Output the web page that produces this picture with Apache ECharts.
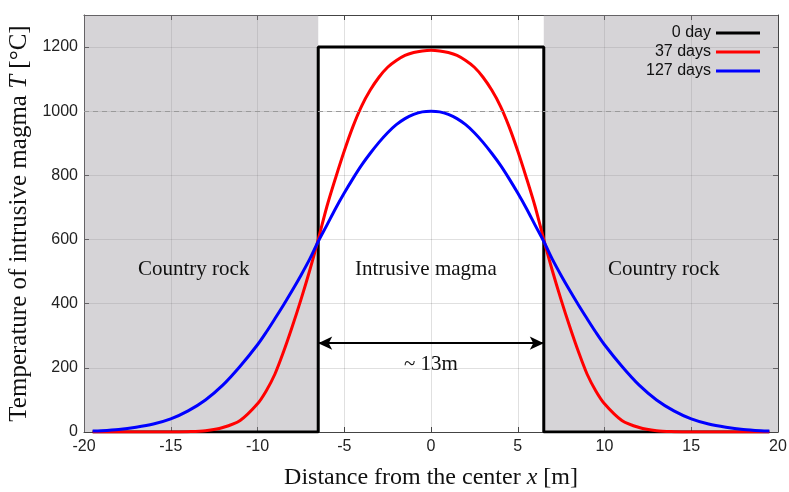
<!DOCTYPE html>
<html>
<head>
    <meta charset="UTF-8">
    <script src="https://cdn.jsdelivr.net/npm/echarts@6/dist/echarts.min.js"></script>
    <style>
        html, body { margin: 0; padding: 0; background: #ffffff; }
        #main { width: 789px; height: 492px; }
    </style>
</head>
<body>
<div id="main"></div>
<script type="text/javascript">
    // distance from the center x [m]
    var xs = [-19.5, -19, -18, -17, -16, -15, -14, -13, -12, -11, -10, -9.5, -9, -8.5, -8, -7.5, -7, -6.5,
        -6, -5.5, -5, -4.5, -4, -3.5, -3, -2.5, -2, -1.5, -1, -0.5, 0,
        0.5, 1, 1.5, 2, 2.5, 3, 3.5, 4, 4.5, 5, 5.5, 6,
        6.5, 7, 7.5, 8, 8.5, 9, 9.5, 10, 11, 12, 13, 14, 15, 16, 17, 18, 19, 19.5];
    // temperature after 37 days
    var days37 = [0, 0, 0, 0, 0, 0, 1, 4, 14, 36, 88, 128, 180, 250, 328, 412, 502, 600,
        703, 792, 876, 952, 1016, 1066, 1106, 1137, 1158, 1174, 1183, 1188, 1190,
        1188, 1183, 1174, 1158, 1137, 1106, 1066, 1016, 952, 876, 792, 703,
        600, 502, 412, 328, 250, 180, 128, 88, 36, 14, 4, 1, 0, 0, 0, 0, 0, 0];
    // temperature after 127 days
    var days127 = [3, 4, 8, 15, 25, 41, 66, 100, 146, 205, 272, 311, 353, 396, 441, 488, 538, 594,
        645, 697, 745, 790, 832, 869, 903, 933, 958, 977, 990, 998, 1000,
        998, 990, 977, 958, 933, 903, 869, 832, 790, 745, 697, 645,
        594, 538, 488, 441, 396, 353, 311, 272, 205, 146, 100, 66, 41, 25, 15, 8, 4, 3];
    // initial state (0 day), step profile
    var day0X = [-19.5, -6.5, -6.5, 6.5, 6.5, 19.5];
    var day0T = [0, 0, 1200, 1200, 0, 0];

    var magmaEdge = 6.5;
    var yTicks = [0, 200, 400, 600, 800, 1000, 1200];

    function pairs(x, y) {
        var out = [];
        for (var i = 0; i < x.length; i++) {
            out.push([x[i], y[i]]);
        }
        return out;
    }

    var myChart = echarts.init(document.getElementById('main'));

    var serif = '"Liberation Serif", "DejaVu Serif", serif';
    var sans = '"Liberation Sans", Arial, sans-serif';

    function frameAxis(extra) {
        var base = {
            type: 'value',
            axisLine: {show: true, onZero: false, lineStyle: {color: '#444', width: 1}},
            axisTick: {show: true, inside: true, length: 5, lineStyle: {color: '#444'}},
            axisLabel: {show: false},
            splitLine: {show: false}
        };
        return Object.assign(base, extra);
    }

    var option = {
        animation: false,
        backgroundColor: '#ffffff',
        grid: {left: 84, right: 11, top: 15, bottom: 60, outerBoundsMode: 'none', containLabel: false},
        legend: {
            data: ['0 day', '37 days', '127 days'],
            orient: 'vertical',
            right: 24,
            top: 20,
            align: 'right',
            icon: 'rect',
            itemWidth: 44,
            itemHeight: 3,
            itemGap: 3,
            textStyle: {fontFamily: sans, fontSize: 16, color: '#111'}
        },
        xAxis: [
            frameAxis({
                min: -20,
                max: 20,
                interval: 5,
                name: 'Distance from the center {i|x} [m]',
                nameLocation: 'middle',
                nameGap: 34,
                nameTextStyle: {
                    fontFamily: serif, fontSize: 24, color: '#111',
                    rich: {i: {fontFamily: serif, fontSize: 24, fontStyle: 'italic', color: '#111'}}
                },
                axisLabel: {show: true, fontFamily: sans, fontSize: 16, color: '#222', margin: 7},
                splitLine: {show: true, lineStyle: {color: 'rgba(0,0,0,0.12)', width: 1}}
            }),
            frameAxis({position: 'top', min: -20, max: 20, interval: 5})
        ],
        yAxis: [
            frameAxis({
                min: 0,
                max: 1300,
                interval: 200,
                name: 'Temperature of intrusive magma {i|T} [°C]',
                nameLocation: 'middle',
                nameGap: 50,
                nameTextStyle: {
                    fontFamily: serif, fontSize: 25, color: '#111',
                    rich: {i: {fontFamily: serif, fontSize: 25, fontStyle: 'italic', color: '#111'}}
                },
                axisLabel: {
                    show: true, fontFamily: sans, fontSize: 16, color: '#222', margin: 6,
                    formatter: function (v) {
                        return yTicks.indexOf(v) >= 0 ? String(v) : '';
                    }
                },
                splitLine: {show: true, lineStyle: {color: 'rgba(0,0,0,0.12)', width: 1}}
            }),
            frameAxis({position: 'right', min: 0, max: 1300, interval: 200})
        ],
        graphic: [
            {type: 'text', z: 100, left: 138, top: 259, style: {text: 'Country rock', font: '21px ' + serif, fill: '#111'}},
            {type: 'text', z: 100, left: 355, top: 259, style: {text: 'Intrusive magma', font: '21px ' + serif, fill: '#111'}},
            {type: 'text', z: 100, left: 608, top: 259, style: {text: 'Country rock', font: '21px ' + serif, fill: '#111'}},
            {type: 'text', z: 100, left: 404, top: 354, style: {text: '~ 13m', font: '21px ' + serif, fill: '#111'}}
        ],
        series: [
            {
                name: 'regions',
                type: 'line',
                data: [],
                z: 1,
                silent: true,
                markArea: {
                    silent: true,
                    itemStyle: {color: 'rgba(152,147,155,0.4)'},
                    data: [
                        [{xAxis: -20}, {xAxis: -magmaEdge}],
                        [{xAxis: magmaEdge}, {xAxis: 20}]
                    ]
                },
                markLine: {
                    silent: true,
                    animation: false,
                    symbol: ['none', 'none'],
                    label: {show: false},
                    data: [
                        {
                            yAxis: 1000,
                            lineStyle: {color: '#9a9a9a', width: 1, type: [5, 4]}
                        },
                        [
                            {coord: [-magmaEdge, 277], symbol: 'arrow', symbolSize: [10, 14],
                                lineStyle: {color: '#000', width: 2, type: 'solid'}},
                            {coord: [magmaEdge, 277], symbol: 'arrow', symbolSize: [10, 14]}
                        ]
                    ]
                }
            },
            {
                name: '0 day',
                type: 'line',
                data: pairs(day0X, day0T),
                symbol: 'none',
                z: 3,
                itemStyle: {color: '#000000'},
                lineStyle: {color: '#000000', width: 3}
            },
            {
                name: '37 days',
                type: 'line',
                data: pairs(xs, days37),
                smooth: 0.3,
                symbol: 'none',
                z: 4,
                itemStyle: {color: '#ff0000'},
                lineStyle: {color: '#ff0000', width: 3}
            },
            {
                name: '127 days',
                type: 'line',
                data: pairs(xs, days127),
                smooth: 0.3,
                symbol: 'none',
                z: 5,
                itemStyle: {color: '#0000ff'},
                lineStyle: {color: '#0000ff', width: 3}
            }
        ]
    };

    myChart.setOption(option);
</script>
</body>
</html>
